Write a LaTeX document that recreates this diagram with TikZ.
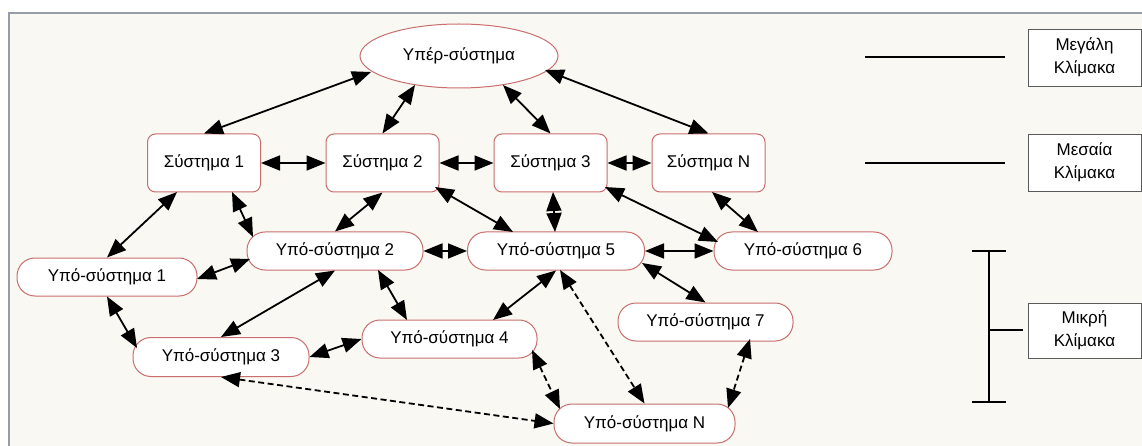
\documentclass[tikz,border=0pt]{standalone}
\usepackage{fontspec}
\setmainfont{Liberation Sans}
\usetikzlibrary{arrows.meta,calc,shapes.geometric}

\definecolor{paper}{RGB}{250,248,242}
\definecolor{frameline}{RGB}{150,156,170}
\definecolor{boxline}{RGB}{200,110,110}
\definecolor{scaleline}{RGB}{90,90,90}

\tikzset{
  label font/.style={font=\fontsize{17}{20}\selectfont},
  sysbox/.style={draw=boxline, line width=1pt, fill=white, rounded corners=8pt,
    minimum width=113pt, minimum height=58pt, inner sep=0pt, label font},
  subbox/.style={draw=boxline, line width=1pt, fill=white, rounded corners=18pt,
    minimum width=177pt, minimum height=38pt, inner sep=0pt, label font},
  superbox/.style={ellipse, draw=boxline, line width=1pt, fill=white,
    minimum width=198pt, minimum height=64pt, inner sep=0pt, label font},
  scalebox/.style={draw=scaleline, line width=0.9pt, fill=white,
    minimum width=113pt, minimum height=57pt, inner sep=0pt, align=center,
    font=\fontsize{17}{23}\selectfont},
  link/.style={line width=1.8pt,
    {Triangle[length=19pt,width=15pt]}-{Triangle[length=19pt,width=15pt]}},
  weak/.style={link, dash pattern=on 6pt off 3.5pt},
  scalemark/.style={line width=1.8pt},
}

\begin{document}
\begin{tikzpicture}[x=1pt,y=-1pt]
  % page and framed panel
  \clip (0,0) rectangle (1142,446);
  \fill[white] (0,0) rectangle (1142,446);
  \fill[paper] (9,13) rectangle (1160,460);
  \draw[frameline, line width=1.5pt] (9,460) -- (9,13) -- (1160,13);

  % super-system
  \node[superbox] (hyper) at (459,56) {Υπέρ-σύστημα};

  % systems
  \node[sysbox] (s1) at (204,163)   {Σύστημα 1};
  \node[sysbox] (s2) at (382.5,163) {Σύστημα 2};
  \node[sysbox] (s3) at (550.5,163) {Σύστημα 3};
  \node[sysbox] (sN) at (708.5,163) {Σύστημα N};

  % sub-systems
  \node[subbox, minimum width=180pt] (u1) at (107,277)   {Υπό-σύστημα 1};
  \node[subbox, minimum width=176pt] (u2) at (335,251)   {Υπό-σύστημα 2};
  \node[subbox, minimum width=176pt, minimum height=39pt] (u3) at (221,357) {Υπό-σύστημα 3};
  \node[subbox, minimum width=175pt] (u4) at (449.5,339) {Υπό-σύστημα 4};
  \node[subbox, minimum width=177pt] (u5) at (556,251)   {Υπό-σύστημα 5};
  \node[subbox, minimum width=178pt] (u6) at (803,251)   {Υπό-σύστημα 6};
  \node[subbox, minimum width=175pt] (u7) at (705.5,322) {Υπό-σύστημα 7};
  \node[subbox, minimum width=181pt, minimum height=39pt] (uN) at (644.5,423.5) {Υπό-σύστημα N};

  % super-system to systems
  \draw[link] ($(hyper)+(-88,16)$) -- (s1.north);
  \draw[link] ($(hyper)+(-44,29)$) -- (s2.north);
  \draw[link] ($(hyper)+(44,29)$)  -- (s3.north);
  \draw[link] ($(hyper)+(86,14)$)  -- (sN.north);

  % between systems
  \draw[link] (s1.east) -- (s2.west);
  \draw[link] (s2.east) -- (s3.west);
  \draw[link] (s3.east) -- (sN.west);

  % systems to sub-systems
  \draw[link] ($(s1)+(-27,29)$)   -- (u1.north);
  \draw[link] ($(s1)+(28,29)$)    -- ($(u2)+(-82,-14)$);
  \draw[link] (s2.south)          -- (u2.north);
  \draw[link] ($(s2)+(52.5,24)$)  -- ($(u5)+(-43,-19)$);
  \draw[link] ($(s3)+(2.5,29)$)   -- ($(u5)+(-1,-19)$);
  \draw[link] ($(s3)+(54.5,24)$)  -- ($(u6)+(-85,-9)$);
  \draw[link] ($(sN)+(3.5,29)$)   -- ($(u6)+(-45,-19)$);

  % between sub-systems
  \draw[link] ($(u1)+(90,2)$)     -- ($(u2)+(-85,8)$);
  \draw[link] (u2.east)           -- (u5.west);
  \draw[link] (u5.east)           -- (u6.west);
  \draw[link] (u1.south)          -- ($(u3)+(-84,-9)$);
  \draw[link] (u2.south)          -- (u3.north);
  \draw[link] ($(u2)+(43,19)$)    -- ($(u4)+(-42.5,-19)$);
  \draw[link] (u3.east)           -- (u4.west);
  \draw[link] (u5.south)          -- ($(u4)+(43.5,-19)$);
  \draw[link] ($(u5)+(86,12)$)    -- (u7.north);

  % weak links to sub-system N
  \draw[weak] ($(u5)+(4,19)$)     -- (uN.north);
  \draw[weak] ($(u4)+(82.5,11)$)  -- ($(uN)+(-84.5,-14.5)$);
  \draw[weak] (u3.south)          -- (uN.west);
  \draw[weak] ($(u7)+(44.5,17)$)  -- ($(uN)+(83.5,-15.5)$);

  % scale legend
  \node[scalebox] (large)  at (1084.5,57.5)  {Μεγάλη\\Κλίμακα};
  \node[scalebox] (medium) at (1084.5,162.5) {Μεσαία\\Κλίμακα};
  \node[scalebox, minimum height=55pt] (small) at (1084.5,330.5) {Μικρή\\Κλίμακα};

  \coordinate (largeA)  at (865,57);   \coordinate (largeB)  at (1005,57);
  \coordinate (mediumA) at (865,163);  \coordinate (mediumB) at (1005,163);
  \draw[scalemark] (largeA) -- (largeB);
  \draw[scalemark] (mediumA) -- (mediumB);

  % bracket for the small scale
  \coordinate (brTop) at (989,251);
  \coordinate (brBot) at (989,402);
  \coordinate (brMid) at (989,330);
  \draw[scalemark] (brTop) -- (brBot);
  \draw[scalemark] ([xshift=-17pt]brTop) -- ([xshift=17pt]brTop);
  \draw[scalemark] ([xshift=-17pt]brBot) -- ([xshift=17pt]brBot);
  \draw[scalemark] (brMid) -- ([xshift=34pt]brMid);
\end{tikzpicture}
\end{document}
